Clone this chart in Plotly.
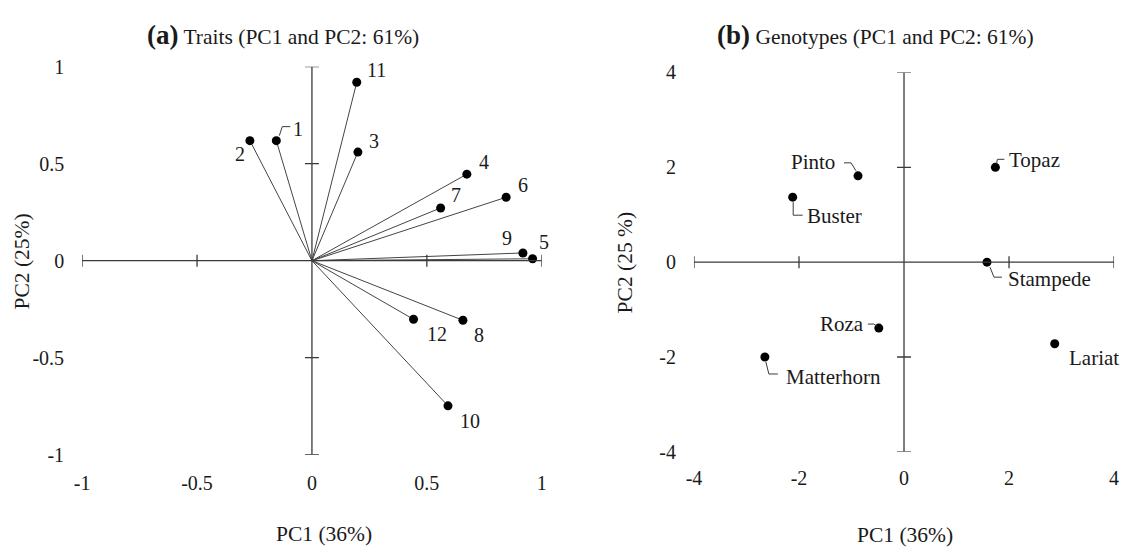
import plotly.graph_objects as go

# ---------------- data ----------------
trait_ids = ["1", "2", "3", "4", "5", "6", "7", "8", "9", "10", "11", "12"]
trait_pc1 = [-0.155, -0.27, 0.20, 0.674, 0.96, 0.845, 0.56, 0.657, 0.918, 0.592, 0.195, 0.442]
trait_pc2 = [0.619, 0.619, 0.56, 0.446, 0.01, 0.327, 0.272, -0.307, 0.04, -0.748, 0.92, -0.302]

genotypes = ["Pinto", "Topaz", "Buster", "Stampede", "Roza", "Lariat", "Matterhorn"]
geno_pc1 = [-0.876, 1.74, -2.12, 1.58, -0.48, 2.87, -2.65]
geno_pc2 = [1.82, 2.0, 1.37, 0.0, -1.39, -1.72, -2.0]

ticks_a = [-1, -0.5, 0, 0.5, 1]
ticktext_a = ["-1", "-0.5", "0", "0.5", "1"]
ticks_b = [-4, -2, 0, 2, 4]
ticktext_b = ["-4", "-2", "0", "2", "4"]

# ---------------- styles ----------------
W, H = 1124, 556
FONT = "Liberation Serif, Times New Roman, serif"
TXT = "#1a1a1a"
AX = "#3a3a3a"
FS_TICK = 20
FS_NUM = 20
FS_NAME = 21
FS_TITLE = 21.5
FS_AXT = 21.5

# label offsets (pixels, relative to point): (xshift, yshift, xanchor)
trait_off = {
    "1": (22, 12, "center"), "2": (-10, -13, "center"), "3": (16, 11, "center"),
    "4": (17, 12, "center"), "5": (11, 17, "center"), "6": (17, 12, "center"),
    "7": (15, 13, "center"), "8": (16, -15, "center"), "9": (-16, 15, "center"),
    "10": (22, -15, "center"), "11": (20, 12, "center"), "12": (23, -15, "center"),
}
trait_leader = {"1": "M 3,5 L 6,14 L 14,14"}

geno_off = {
    "Pinto": (-21, 14, "right"), "Topaz": (12, 7, "left"), "Buster": (12, -19, "left"),
    "Stampede": (19, -17, "left"), "Roza": (-13, 4, "right"), "Lariat": (12, -14, "left"),
    "Matterhorn": (19, -20, "left"),
}
geno_leader = {
    "Pinto": "M -14,13 L -7,13 L -2,5",
    "Topaz": "M 1,3 L 2,8 L 9,8",
    "Buster": "M 0.5,-5 L 0.5,-18 L 10,-18",
    "Stampede": "M 3,-5 L 7,-15 L 15,-15",
    "Roza": "M -11,4 L -5,4 L -2,2",
    "Matterhorn": "M 1,-5 L 4,-17 L 13,-17",
}


def px_x(p):
    return p / W


def px_y(p):
    return 1 - p / H


fig = go.Figure()

# ---- panel (a): vectors + points ----
vx, vy = [], []
for x, y in zip(trait_pc1, trait_pc2):
    vx += [0, x, None]
    vy += [0, y, None]
fig.add_trace(go.Scatter(x=vx, y=vy, mode="lines", line=dict(color="#444444", width=1),
                         xaxis="x", yaxis="y", hoverinfo="skip", showlegend=False))
fig.add_trace(go.Scatter(x=trait_pc1, y=trait_pc2, mode="markers", text=trait_ids,
                         marker=dict(color="black", size=9), cliponaxis=False,
                         xaxis="x", yaxis="y", showlegend=False))

# ---- panel (b): points ----
fig.add_trace(go.Scatter(x=geno_pc1, y=geno_pc2, mode="markers", text=genotypes,
                         marker=dict(color="black", size=9), cliponaxis=False,
                         xaxis="x2", yaxis="y2", showlegend=False))

shapes = []
annotations = []


def cross_axes(xr, yr, ticks_x, ticks_y):
    shapes.append(dict(type="line", xref=xr, yref=yr, x0=ticks_x[0], x1=ticks_x[-1], y0=0, y1=0,
                       line=dict(color=AX, width=1.3)))
    shapes.append(dict(type="line", xref=xr, yref=yr, x0=0, x1=0, y0=ticks_y[0], y1=ticks_y[-1],
                       line=dict(color=AX, width=1.3)))
    for t in ticks_x:
        if t == 0:
            continue
        shapes.append(dict(type="line", xref=xr, yref=yr, x0=t, x1=t,
                           ysizemode="pixel", yanchor=0, y0=-6, y1=6,
                           line=dict(color=AX, width=1.3)))
    for t in ticks_y:
        if t == 0:
            continue
        shapes.append(dict(type="line", xref=xr, yref=yr, y0=t, y1=t,
                           xsizemode="pixel", xanchor=0, x0=-7, x1=7,
                           line=dict(color=AX, width=1.3)))


cross_axes("x", "y", ticks_a, ticks_a)
cross_axes("x2", "y2", ticks_b, ticks_b)

for name, x, y in zip(trait_ids, trait_pc1, trait_pc2):
    dx, dy, anc = trait_off[name]
    annotations.append(dict(text=name, x=x, y=y, xref="x", yref="y", xshift=dx, yshift=dy,
                            xanchor=anc, yanchor="middle", showarrow=False,
                            font=dict(family=FONT, size=FS_NUM, color=TXT)))
    if name in trait_leader:
        shapes.append(dict(type="path", xref="x", yref="y", xsizemode="pixel", ysizemode="pixel",
                           xanchor=x, yanchor=y, path=trait_leader[name],
                           line=dict(color=AX, width=1)))

for name, x, y in zip(genotypes, geno_pc1, geno_pc2):
    dx, dy, anc = geno_off[name]
    annotations.append(dict(text=name, x=x, y=y, xref="x2", yref="y2", xshift=dx, yshift=dy,
                            xanchor=anc, yanchor="middle", showarrow=False,
                            font=dict(family=FONT, size=FS_NAME, color=TXT)))
    if name in geno_leader:
        shapes.append(dict(type="path", xref="x2", yref="y2", xsizemode="pixel", ysizemode="pixel",
                           xanchor=x, yanchor=y, path=geno_leader[name],
                           line=dict(color=AX, width=1)))

# titles
annotations.append(dict(text='<span style="font-size:27px"><b>(a)</b></span> Traits (PC1 and PC2: 61%)',
                        xref="paper", yref="paper", x=px_x(278), y=px_y(25),
                        xanchor="center", yanchor="middle", showarrow=False,
                        font=dict(family=FONT, size=FS_TITLE, color=TXT)))
annotations.append(dict(text='<span style="font-size:27px"><b>(b)</b></span> Genotypes (PC1 and PC2: 61%)',
                        xref="paper", yref="paper", x=px_x(878), y=px_y(25),
                        xanchor="center", yanchor="middle", showarrow=False,
                        font=dict(family=FONT, size=FS_TITLE, color=TXT)))
# axis titles
annotations.append(dict(text="PC1 (36%)", xref="paper", yref="paper", x=px_x(320), y=px_y(545),
                        xanchor="center", yanchor="middle", showarrow=False,
                        font=dict(family=FONT, size=FS_AXT, color=TXT)))
annotations.append(dict(text="PC1 (36%)", xref="paper", yref="paper", x=px_x(907), y=px_y(546),
                        xanchor="center", yanchor="middle", showarrow=False,
                        font=dict(family=FONT, size=FS_AXT, color=TXT)))
annotations.append(dict(text="PC2 (25%)", xref="paper", yref="paper", x=px_x(14), y=px_y(261),
                        xanchor="center", yanchor="middle", showarrow=False, textangle=-90,
                        font=dict(family=FONT, size=FS_AXT, color=TXT)))
annotations.append(dict(text="PC2 (25 %)", xref="paper", yref="paper", x=px_x(624), y=px_y(262),
                        xanchor="center", yanchor="middle", showarrow=False, textangle=-90,
                        font=dict(family=FONT, size=FS_AXT, color=TXT)))

axis_common = dict(showgrid=False, zeroline=False, showline=False, ticks="",
                   tickfont=dict(family=FONT, size=FS_TICK, color=TXT), fixedrange=True)

fig.update_layout(
    width=W, height=H,
    margin=dict(l=0, r=0, t=0, b=0),
    paper_bgcolor="white", plot_bgcolor="white",
    showlegend=False,
    xaxis=dict(domain=[px_x(75), px_x(540)], range=[-1, 1], tickvals=ticks_a, ticktext=ticktext_a,
               anchor="y", ticklabelstandoff=14, **axis_common),
    yaxis=dict(domain=[px_y(462), px_y(58)], range=[-1, 1], tickvals=ticks_a, ticktext=ticktext_a,
               anchor="x", ticklabelstandoff=17, **axis_common),
    xaxis2=dict(domain=[px_x(694), px_x(1119)], range=[-4, 4], tickvals=ticks_b, ticktext=ticktext_b,
                anchor="y2", ticklabelstandoff=12, **axis_common),
    yaxis2=dict(domain=[px_y(459), px_y(64)], range=[-4, 4], tickvals=ticks_b, ticktext=ticktext_b,
                anchor="x2", ticklabelstandoff=17, **axis_common),
    shapes=shapes,
    annotations=annotations,
)

fig.write_html(
    "out.html",
    config={"displayModeBar": False},
    post_script="document.body.style.margin='0';document.body.style.overflow='hidden';",
)
